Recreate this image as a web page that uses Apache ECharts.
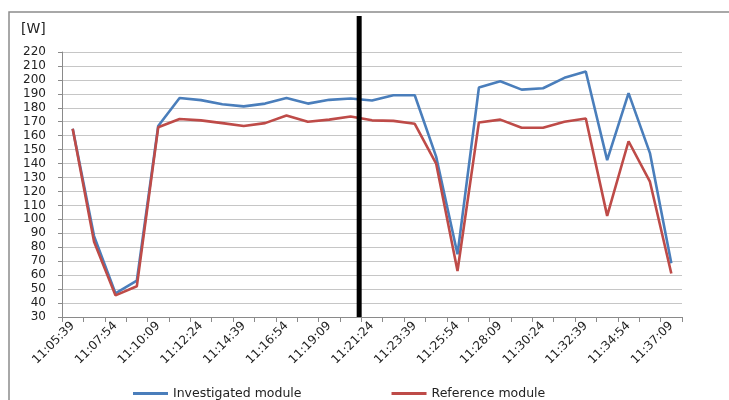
<!DOCTYPE html>
<html>
<head>
<meta charset="utf-8">
<script src="https://cdn.jsdelivr.net/npm/echarts@6/dist/echarts.min.js"></script>
<style>
html,body{margin:0;padding:0;background:#fff;}
#c{width:729px;height:400px;}
</style>
</head>
<body>
<div id="c"></div>
<script>
const categories = ['11:05:39','11:06:46','11:07:54','11:09:01','11:10:09','11:11:16','11:12:24','11:13:31','11:14:39','11:15:46','11:16:54','11:18:01','11:19:09','11:20:16','11:21:24','11:22:31','11:23:39','11:24:46','11:25:54','11:27:01','11:28:09','11:29:16','11:30:24','11:31:31','11:32:39','11:33:46','11:34:54','11:36:01','11:37:09'];
const investigated = [165, 88, 47, 56, 167, 187, 185.5, 182.5, 181, 183, 187, 183, 185.7, 186.7, 185.2, 189, 189, 145, 75, 194.5, 199, 193, 194, 201.5, 206, 142.5, 190.5, 147.5, 68.5];
const reference = [165, 84, 45.5, 52, 166, 172, 171, 169, 167, 169, 174.5, 170, 171.5, 173.7, 171, 170.6, 168.5, 140, 63, 169.5, 171.5, 165.7, 165.7, 170, 172.3, 102.5, 156, 127, 61.2];
const yTicks = {min: 30, max: 220, interval: 10};
const dividerBetween = [13, 14];
const seriesNames = ['Investigated module', 'Reference module'];

const chart = echarts.init(document.getElementById('c'), null, {renderer: 'canvas'});
const font = 'DejaVu Sans';
chart.setOption({
  animation: false,
  backgroundColor: '#ffffff',
  grid: {left: 62, right: 47, top: 52, bottom: 83},
  legend: {
    left: 128, top: 382,
    itemWidth: 35, itemHeight: 3, itemGap: 90,
    icon: 'rect',
    textStyle: {fontFamily: font, fontSize: 12.5, color: '#222'},
    data: seriesNames
  },
  xAxis: {
    type: 'category',
    data: categories,
    boundaryGap: true,
    axisLine: {lineStyle: {color: '#8a8a8a', width: 1}},
    axisTick: {show: true, interval: 0, length: 5, lineStyle: {color: '#8a8a8a'}},
    axisLabel: {interval: 1, rotate: 45, fontFamily: font, fontSize: 12, color: '#222', margin: 7},
    splitLine: {show: false}
  },
  yAxis: {
    type: 'value',
    min: yTicks.min, max: yTicks.max, interval: yTicks.interval,
    axisLine: {show: true, lineStyle: {color: '#8a8a8a', width: 1}},
    axisTick: {show: true, length: 4, inside: false, lineStyle: {color: '#8a8a8a'}},
    axisLabel: {fontFamily: font, fontSize: 12, color: '#222', margin: 16},
    splitLine: {show: true, lineStyle: {color: '#c6c6c6', width: 1}}
  },
  series: [
    {name: seriesNames[0], type: 'line', data: investigated, symbol: 'none',
     lineStyle: {color: '#4a7ebb', width: 2.6}, itemStyle: {color: '#4a7ebb'}, z: 2},
    {name: seriesNames[1], type: 'line', data: reference, symbol: 'none',
     lineStyle: {color: '#be4b48', width: 2.6}, itemStyle: {color: '#be4b48'}, z: 3}
  ]
});

const xa = chart.convertToPixel({xAxisIndex: 0}, categories[dividerBetween[0]]);
const xb = chart.convertToPixel({xAxisIndex: 0}, categories[dividerBetween[1]]);
const xLine = xa + 0.4 * (xb - xa);
const yBottom = chart.convertToPixel({yAxisIndex: 0}, yTicks.min);
chart.setOption({
  graphic: [
    {type: 'rect', shape: {x: 9, y: 12, width: 800, height: 500},
     style: {fill: 'none', stroke: '#8c8c8c', lineWidth: 1.5}, z: 1, silent: true},
    {type: 'text', left: 21, top: 22,
     style: {text: '[W]', font: '14px "DejaVu Sans"', fill: '#222'}},
    {type: 'line', shape: {x1: xLine, y1: 16, x2: xLine, y2: yBottom},
     style: {stroke: '#000', lineWidth: 5}, z: 100}
  ]
});
</script>
</body>
</html>
